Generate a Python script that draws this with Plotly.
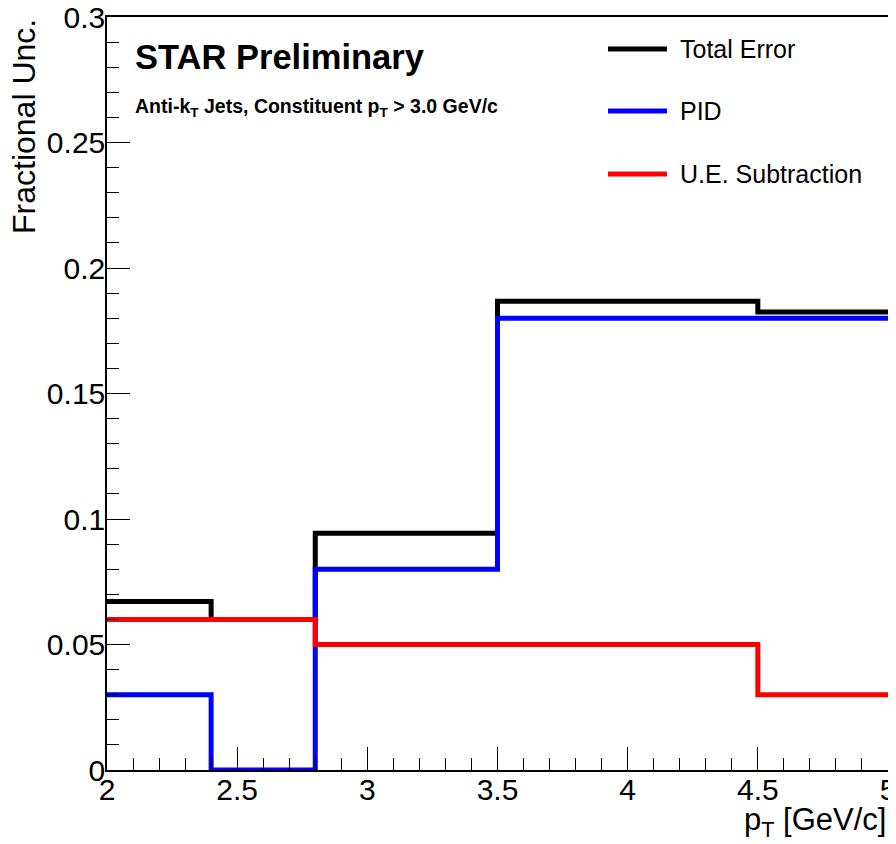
import plotly.graph_objects as go

# Data
bin_edges = [2.0, 2.4, 2.8, 3.5, 4.5, 5.0]
total_error = [0.0671, 0.0600, 0.0943, 0.1868, 0.1825]
pid = [0.030, 0.000, 0.080, 0.180, 0.180]
ue_subtraction = [0.060, 0.060, 0.050, 0.050, 0.030]

series_names = ["Total Error", "PID", "U.E. Subtraction"]
series_colors = ["#000000", "#0000ff", "#ff0000"]
series_values = [total_error, pid, ue_subtraction]

y_tickvals = [0, 0.05, 0.1, 0.15, 0.2, 0.25, 0.3]
y_ticktext = ["0", "0.05", "0.1", "0.15", "0.2", "0.25", "0.3"]
x_tickvals = [2, 2.5, 3, 3.5, 4, 4.5, 5]
x_ticktext = ["2", "2.5", "3", "3.5", "4", "4.5", "5"]

FONT = "Liberation Sans, Arial, Helvetica, sans-serif"

fig = go.Figure()
for name, color, vals in zip(series_names, series_colors, series_values):
    fig.add_trace(go.Scatter(
        x=bin_edges,
        y=vals + [vals[-1]],
        mode="lines",
        line=dict(shape="hv", color=color, width=5),
        name=name,
        showlegend=False,
        hoverinfo="skip",
    ))

# page body has an 8px default margin; size figure so it fills the 896x844 window
fig.update_layout(
    width=888, height=836,
    margin=dict(l=99, r=8, t=9, b=74, autoexpand=False),
    paper_bgcolor="white", plot_bgcolor="white",
    font=dict(family=FONT, color="black"),
    showlegend=False,
)

fig.update_xaxes(
    range=[2, 5], showgrid=False, zeroline=False, automargin=False,
    showline=True, linecolor="black", linewidth=1.5, mirror=True,
    ticks="inside", ticklen=23, tickwidth=1, tickcolor="black",
    tickvals=x_tickvals, ticktext=x_ticktext,
    tickfont=dict(size=30, family=FONT, color="black"),
    ticklabelstandoff=-8, ticklabeloverflow="allow",
    minor=dict(dtick=0.1, ticklen=12, tickwidth=1, tickcolor="black", ticks="inside", showgrid=False),
)
fig.update_yaxes(
    range=[0, 0.3], showgrid=False, zeroline=False, automargin=False,
    showline=True, linecolor="black", linewidth=1.5, mirror=True,
    ticks="inside", ticklen=23, tickwidth=1, tickcolor="black",
    tickvals=y_tickvals, ticktext=y_ticktext,
    tickfont=dict(size=30, family=FONT, color="black"),
    ticklabelstandoff=-6, ticklabeloverflow="allow",
    minor=dict(dtick=0.01, ticklen=12, tickwidth=1, tickcolor="black", ticks="inside", showgrid=False),
)

# Axis titles
fig.add_annotation(
    text="Fractional Unc.", xref="paper", yref="paper",
    x=-0.1069, y=1.0, xanchor="center", yanchor="top", textangle=-90,
    showarrow=False, font=dict(size=32, family=FONT, color="black"),
)
fig.add_annotation(
    text="p<sub>T</sub> [GeV/c]", xref="paper", yref="paper",
    x=1.0, y=-0.069, xanchor="right", yanchor="middle",
    showarrow=False, font=dict(size=31, family=FONT, color="black"),
)

# Labels
fig.add_annotation(
    text="<b>STAR Preliminary</b>", xref="paper", yref="paper",
    x=0.0333, y=0.9469, xanchor="left", yanchor="middle",
    showarrow=False, font=dict(size=34.5, family=FONT, color="black"),
)
fig.add_annotation(
    text="<b>Anti-k<sub>T</sub> Jets, Constituent p<sub>T</sub> &gt; 3.0 GeV/c</b>",
    xref="paper", yref="paper",
    x=0.0333, y=0.880, xanchor="left", yanchor="middle",
    showarrow=False, font=dict(size=19.5, family=FONT, color="black"),
)

# Legend (manual)
legend_y = [0.9575, 0.8752, 0.7915]
for name, color, ly in zip(series_names, series_colors, legend_y):
    fig.add_shape(type="line", xref="paper", yref="paper",
                  x0=0.6415, x1=0.7170, y0=ly, y1=ly,
                  line=dict(color=color, width=5))
    fig.add_annotation(text=name, xref="paper", yref="paper",
                       x=0.731, y=ly, xanchor="left", yanchor="middle",
                       showarrow=False, font=dict(size=25, family=FONT, color="black"))

fig.write_html("out.html")
